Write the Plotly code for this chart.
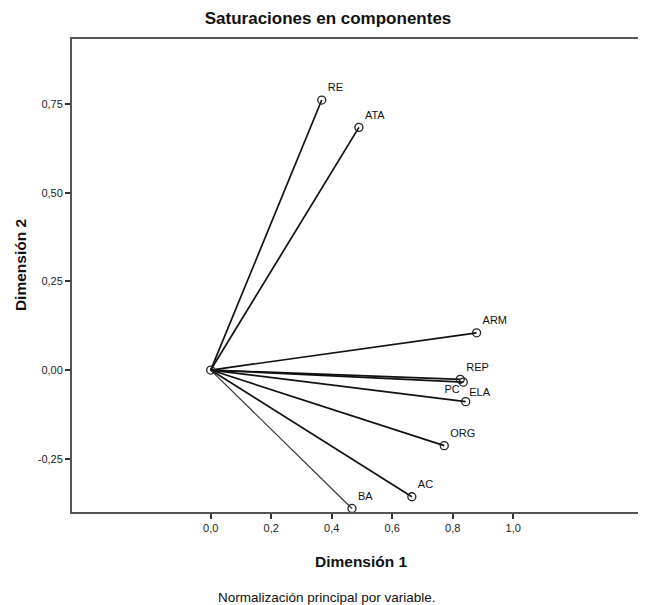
import plotly.graph_objects as go

variables = ["RE", "ATA", "ARM", "REP", "ELA", "PC", "ORG", "AC", "BA"]
dim1 = [0.367, 0.490, 0.879, 0.825, 0.835, 0.843, 0.772, 0.665, 0.467]
dim2 = [0.761, 0.684, 0.105, -0.026, -0.034, -0.089, -0.213, -0.357, -0.390]

x_ticks = [0.0, 0.2, 0.4, 0.6, 0.8, 1.0]
x_tick_labels = ["0,0", "0,2", "0,4", "0,6", "0,8", "1,0"]
y_ticks = [-0.25, 0.0, 0.25, 0.50, 0.75]
y_tick_labels = ["-0,25", "0,00", "0,25", "0,50", "0,75"]

label_pos = {"RE": "top right", "ATA": "top right", "ARM": "top right",
             "REP": "top right", "ELA": "bottom right", "PC": "top left",
             "ORG": "top right", "AC": "top right", "BA": "top right"}

FONT = "Liberation Sans, Arial"

fig = go.Figure()
for name, x, y in zip(variables, dim1, dim2):
    fig.add_trace(go.Scatter(
        x=[0, x], y=[0, y], mode="lines",
        line=dict(color="#333333" if name == "BA" else "#111111",
                  width=1.2 if name == "BA" else 1.7),
        hoverinfo="skip", showlegend=False))

fig.add_trace(go.Scatter(
    x=[0], y=[0], mode="markers",
    marker=dict(symbol="circle-open", size=8, color="#222222", line=dict(width=1.3)),
    showlegend=False, hoverinfo="skip"))

fig.add_trace(go.Scatter(
    x=dim1, y=dim2, mode="markers+text", text=variables,
    textposition=[label_pos[v] for v in variables],
    textfont=dict(family=FONT, size=11, color="#111111"),
    marker=dict(symbol="circle-open", size=8, color="#222222", line=dict(width=1.3)),
    showlegend=False))

fig.update_layout(
    width=638, height=597,
    margin=dict(l=64, r=0, t=31, b=93),
    paper_bgcolor="white", plot_bgcolor="white",
    font=dict(family=FONT, size=11, color="#222222"),
    title=dict(text="<b>Saturaciones en componentes</b>", xref="container", x=0.5016,
               xanchor="center", yref="container", y=0.983, yanchor="middle",
               font=dict(size=17, color="#111111")),
    xaxis=dict(range=[-0.4585, 1.439], tickvals=x_ticks, ticktext=x_tick_labels,
               showgrid=False, zeroline=False, showline=True, mirror=True,
               linecolor="#555555", linewidth=2, ticks="outside", ticklen=5,
               tickcolor="#333333", tickwidth=1.5, fixedrange=True),
    yaxis=dict(range=[-0.400, 0.933], tickvals=y_ticks, ticktext=y_tick_labels,
               showgrid=False, zeroline=False, showline=True,
               linecolor="#555555", linewidth=2, ticks="outside", ticklen=5,
               tickcolor="#333333", tickwidth=1.5, fixedrange=True),
    annotations=[
        dict(text="<b>Dimensión 1</b>", xref="paper", yref="paper", x=0.505, y=-0.1036,
             xanchor="center", yanchor="middle", showarrow=False,
             font=dict(size=15.5, color="#111111")),
        dict(text="<b>Dimensión 2</b>", xref="paper", yref="paper", x=-0.0906, y=0.522,
             xanchor="center", yanchor="middle", textangle=-90, showarrow=False,
             font=dict(size=15.5, color="#111111")),
        dict(text="Normalización principal por variable.", xref="paper", yref="paper",
             x=0.4437, y=-0.1818, xanchor="center", yanchor="middle", showarrow=False,
             font=dict(size=13.5, color="#111111")),
    ],
)

fig.write_html("out.html")
